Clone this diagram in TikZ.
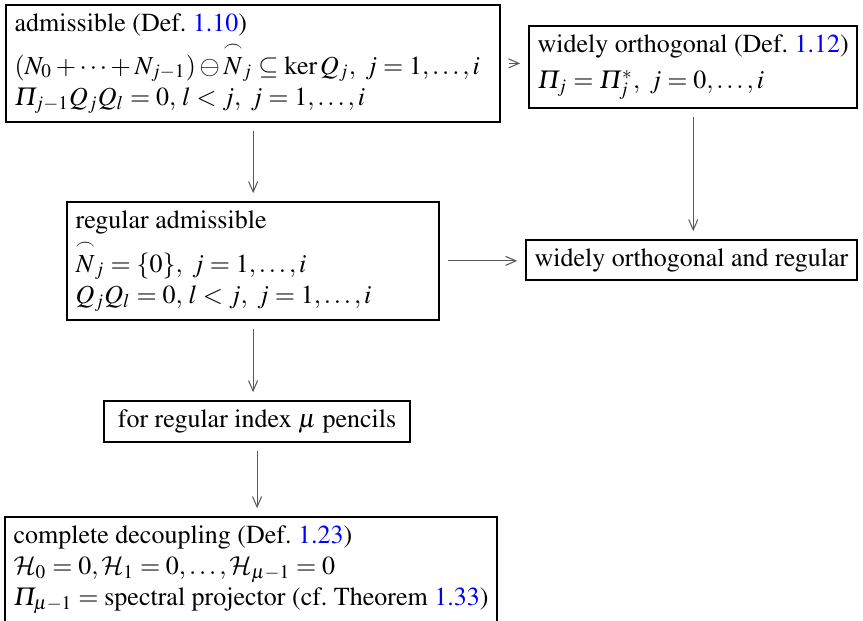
\documentclass[tikz,border=0pt]{standalone}
\usepackage[T1]{fontenc}
\usepackage{amsmath}
\usepackage{mathptmx}
\DeclareMathAlphabet{\mathcal}{OMS}{cmsy}{m}{n}
\usetikzlibrary{arrows.meta}
\definecolor{linkblue}{RGB}{0,0,255}
\newcommand{\lnk}[1]{\textcolor{linkblue}{#1}}
\newcommand{\IPi}{\varPi}
\newcommand{\arcN}{\overset{\frown}{N}}
\tikzset{
  box/.style={draw, line width=0.8pt, align=flush left, anchor=north west, inner sep=3.3pt, font=\frenchspacing},
  arr/.style={draw=black!65, line width=0.4pt, -{Straight Barb[length=4pt,width=3.5pt]}, shorten <=3pt, shorten >=3pt}
}
\begin{document}
\begin{tikzpicture}[x=0.3846pt, y=-0.3846pt]
\useasboundingbox (0,0) rectangle (863,621);
\node[box, text width=183.5pt] (b1) at (5,4) {admissible (Def. \lnk{1.10})\\[1.5pt]
$(N_0+\cdots+N_{j-1})\ominus\arcN_j\subseteq\ker Q_j,\ j=1,\ldots,i$\\
$\IPi_{j-1}Q_jQ_l=0,\, l<j,\ j=1,\ldots,i$};
\node[box] (b2) at (528,25) {widely orthogonal (Def. \lnk{1.12})\\[2pt]
$\IPi_j=\IPi_j^*,\ j=0,\ldots,i$};
\node[box, text width=136.5pt] (b3) at (66,201) {regular admissible\\[1.5pt]
$\arcN_j=\{0\},\ j=1,\ldots,i$\\
$Q_jQ_l=0,\, l<j,\ j=1,\ldots,i$};
\node[box] (b4) at (525,239) {widely orthogonal and regular};
\node[box, minimum width=117.7pt] (b5) at (103,400) {for regular index $\mu$ pencils};
\node[box] (b6) at (4,516) {complete decoupling (Def. \lnk{1.23})\\
$\mathcal{H}_0=0,\mathcal{H}_1=0,\ldots,\mathcal{H}_{\mu-1}=0$\\
$\IPi_{\mu-1}=\text{spectral projector (cf. Theorem \lnk{1.33})}$};
\draw[arr] (b1.south) -- (b1.south |- b3.north);
\draw[arr] (b1.east) -- (b1.east -| b2.west);
\draw[arr] (b2.south) -- (b2.south |- b4.north);
\draw[arr] (b3.east) -- (b3.east -| b4.west);
\draw[arr] (b3.south) -- (b3.south |- b5.north);
\draw[arr] (b5.south) -- (b5.south |- b6.north);
\end{tikzpicture}
\end{document}
